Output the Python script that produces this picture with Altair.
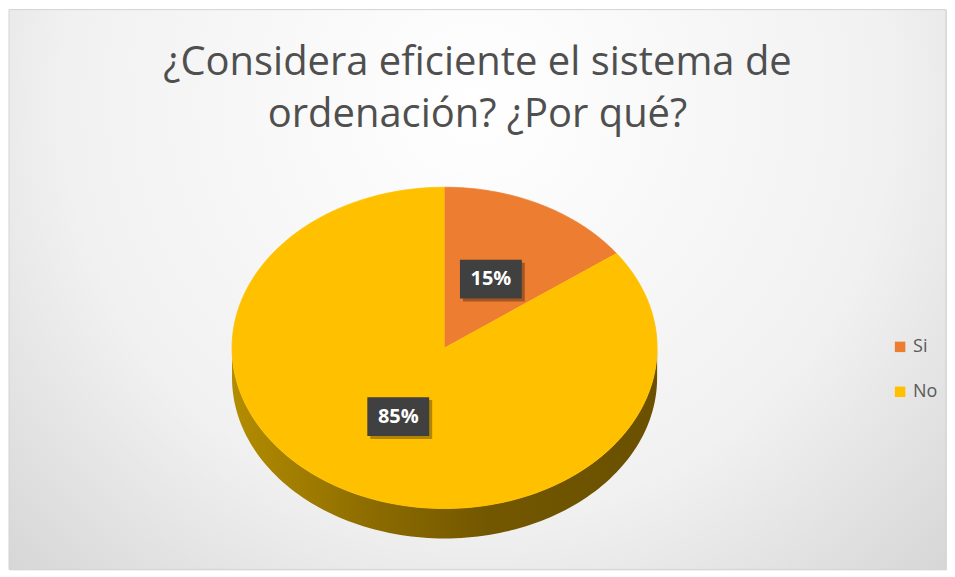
import altair as alt
import pandas as pd

# ---- data ----
categories = ["Si", "No"]
values = [15, 85]
colors = ["#ED7D31", "#FFC000"]
title_lines = ["¿Considera eficiente el sistema de", "ordenación? ¿Por qué?"]

# ---- layout / styling ----
W, H = 939, 561
RX, RY = 213.0, 161.0          # pixel radii of the tilted pie top face
CX, CY = 436.5, 339.0          # pie centre inside the view (pixels)
DEPTH = 30.0 / RY              # thickness of the pie (in y units)
STEPS = 120
LABEL_R = 0.48

xs = alt.Scale(domain=[-CX / RX, (W - CX) / RX], nice=False, zero=False)
ys = alt.Scale(domain=[-(H - CY) / RY, CY / RY], nice=False, zero=False)

df = pd.DataFrame({"cat": categories, "value": values, "order": list(range(len(categories)))})


def base():
    return (
        alt.Chart(df)
        .transform_window(cum="sum(value)", sort=[alt.SortField("order")])
        .transform_joinaggregate(total="sum(value)")
        .transform_calculate(
            f0="(datum.cum - datum.value) / datum.total",
            f1="datum.cum / datum.total",
            label="datum.value + '%'",
        )
    )


X = lambda f: alt.X(f"{f}:Q", scale=xs, axis=None)
Y = lambda f: alt.Y(f"{f}:Q", scale=ys, axis=None)

# background frame with radial gradient
background = alt.Chart(alt.Data(values=[{"a": 1}])).mark_rect(
    fill={
        "gradient": "radial",
        "x1": 0.5, "y1": 0.3, "x2": 0.5, "y2": 0.3, "r1": 0, "r2": 0.8,
        "stops": [
            {"offset": 0, "color": "#ffffff"},
            {"offset": 0.55, "color": "#f1f1f1"},
            {"offset": 1, "color": "#cdcdcd"},
        ],
    },
    stroke="#d4d4d4",
    strokeWidth=1,
).encode(x=alt.value(0), x2=alt.value(W), y=alt.value(0), y2=alt.value(H))

# soft shadow under the pie (silhouette of the cylinder, several faint copies)
shadow = (
    alt.Chart(pd.DataFrame({"k": [1, 2, 3, 4, 5]}))
    .transform_calculate(t=f"sequence(0, {STEPS + 1})")
    .transform_flatten(["t"])
    .transform_calculate(
        s="1 + 0.012 * datum.k",
        a=f"PI * (-0.5 + datum.t / {STEPS})",
    )
    .transform_calculate(
        px="sin(datum.a) * datum.s - 0.015",
        py="cos(datum.a) * datum.s - 0.03",
        py2=f"-cos(datum.a) * datum.s - {DEPTH} - 0.05",
    )
    .mark_area(color="#000000", opacity=0.035)
    .encode(x=X("px"), y=Y("py"), y2=alt.Y2("py2"), detail="k:N", order="t:Q")
)

# side wall (only the front half is visible)
wall = (
    base()
    .transform_calculate(g0="max(datum.f0, 0.25)", g1="min(datum.f1, 0.75)")
    .transform_filter("datum.g1 > datum.g0")
    .transform_calculate(t=f"sequence(0, {STEPS + 1})")
    .transform_flatten(["t"])
    .transform_calculate(a=f"2 * PI * (datum.g0 + (datum.g1 - datum.g0) * datum.t / {STEPS})")
    .transform_calculate(
        px="sin(datum.a)",
        py="cos(datum.a)",
        py2=f"cos(datum.a) - {DEPTH}",
    )
    .mark_area(
        color={
            "gradient": "linear",
            "x1": 0, "y1": 0, "x2": 1, "y2": 0,
            "stops": [
                {"offset": 0, "color": "#b38c00"},
                {"offset": 0.35, "color": "#8a6a00"},
                {"offset": 0.6, "color": "#735700"},
                {"offset": 1, "color": "#6a5000"},
            ],
        }
    )
    .encode(x=X("px"), y=Y("py"), y2=alt.Y2("py2"), detail="cat:N")
)

# top face slices
top = (
    base()
    .transform_calculate(t=f"sequence(0, {STEPS + 1})")
    .transform_flatten(["t"])
    .transform_calculate(
        a=f"2 * PI * (datum.f0 + (datum.f1 - datum.f0) * max(datum.t - 1, 0) / {STEPS - 1})"
    )
    .transform_calculate(
        px="datum.t == 0 ? 0 : sin(datum.a)",
        py="datum.t == 0 ? 0 : cos(datum.a)",
    )
    .mark_line(strokeWidth=0.8, strokeJoin="round")
    .encode(
        x=X("px"),
        y=Y("py"),
        order="t:Q",
        detail="cat:N",
        fill=alt.Fill(
            "cat:N",
            scale=alt.Scale(domain=categories, range=colors),
            legend=alt.Legend(
                title=None,
                orient="none",
                legendX=884,
                legendY=329,
                symbolType="square",
                symbolSize=110,
                symbolStrokeWidth=0,
                labelFont="Open Sans",
                labelFontSize=18,
                labelColor="#595959",
                labelOffset=4,
                rowPadding=27,
                padding=0,
            ),
        ),
        stroke=alt.Stroke("cat:N", scale=alt.Scale(domain=categories, range=colors), legend=None),
    )
)

labels_base = base().transform_calculate(
    lx=f"{LABEL_R} * sin(PI * (datum.f0 + datum.f1))",
    ly=f"{LABEL_R} * cos(PI * (datum.f0 + datum.f1))",
)

box_shadow = labels_base.mark_rect(
    width=62, height=39, color="#000000", opacity=0.3, xOffset=3, yOffset=3
).encode(x=X("lx"), y=Y("ly"))

boxes = labels_base.mark_rect(width=62, height=39, color="#404040").encode(x=X("lx"), y=Y("ly"))

texts = labels_base.mark_text(
    font="Open Sans", fontSize=20, fontWeight="bold", color="#ffffff", baseline="middle", align="center"
).encode(x=X("lx"), y=Y("ly"), text="label:N")

chart = (
    alt.layer(background, shadow, wall, top, box_shadow, boxes, texts)
    .properties(
        width=W,
        height=H,
        padding=0,
        title=alt.TitleParams(
            text=title_lines,
            font="Open Sans",
            fontSize=40,
            fontWeight="normal",
            color="#4f4f4f",
            lineHeight=52,
            anchor="middle",
            offset=-126,
        ),
    )
    .configure_view(strokeWidth=0)
    .configure(background="#ffffff")
)

chart.save("out.html", embed_options={"renderer": "svg", "actions": False})
